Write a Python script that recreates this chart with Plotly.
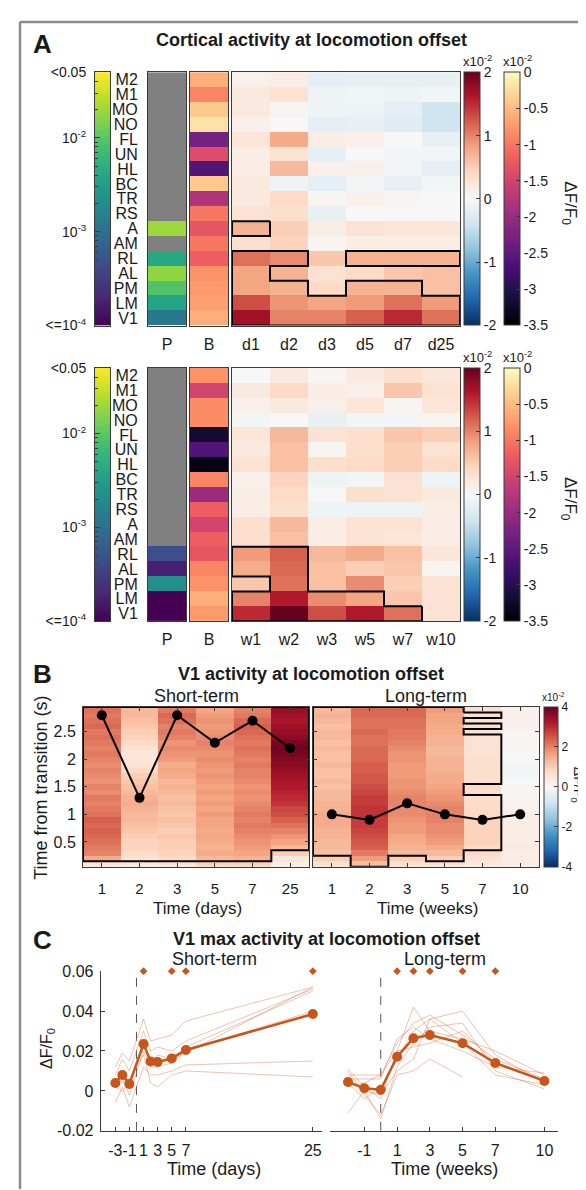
import numpy as np
import plotly.graph_objects as go

# ---------------- data ----------------
areas = ["M2", "M1", "MO", "NO", "FL", "UN", "HL", "BC", "TR", "RS", "A", "AM", "RL", "AL", "PM", "LM", "V1"]
short_sessions = ["d1", "d2", "d3", "d5", "d7", "d25"]
long_sessions = ["w1", "w2", "w3", "w5", "w7", "w10"]

# p-values (None = not significant, drawn grey)
short_p = [None] * 10 + [0.0197, None, 0.0042, 0.0174, 0.0088, 0.0037, 0.0012]
long_p = [None] * 12 + [0.00047, 0.00017, 0.0022, 0.0001, 0.0001]

# baseline dF/F0 (x1e-2)
short_base = [-0.6, -0.9, -0.4, -0.2, -2.3, -1.4, -2.6, -0.4, -1.8, -1.0, -1.3, -1.0, -1.2, -0.8, -0.75, -0.7, -0.6]
long_base = [-0.8, -1.5, -0.85, -0.85, -3.2, -2.6, -3.4, -0.9, -2.0, -1.2, -1.5, -1.2, -1.3, -0.9, -0.8, -0.6, -0.75]

# dF/F0 change per area x session (x1e-2)
short_dff = [
    [0.10, 0.15, -0.20, -0.15, -0.15, -0.15],
    [0.20, 0.30, -0.10, -0.05, -0.10, -0.05],
    [0.20, 0.05, -0.10, -0.10, -0.20, -0.40],
    [0.10, 0.00, -0.20, -0.15, -0.25, -0.40],
    [0.25, 0.75, 0.15, 0.10, 0.00, -0.15],
    [0.15, 0.30, -0.20, 0.00, -0.05, -0.05],
    [0.15, 0.65, 0.10, 0.10, -0.05, -0.20],
    [0.20, -0.10, -0.20, -0.05, -0.15, -0.05],
    [0.20, 0.40, 0.05, 0.10, 0.05, 0.00],
    [0.30, 0.35, -0.15, 0.00, 0.00, 0.00],
    [0.70, 0.50, 0.15, 0.30, 0.25, 0.25],
    [0.35, 0.45, 0.05, 0.15, 0.15, 0.15],
    [1.10, 0.95, 0.55, 0.70, 0.70, 0.70],
    [0.80, 0.70, 0.30, 0.40, 0.55, 0.60],
    [0.80, 0.70, 0.40, 0.70, 0.70, 0.60],
    [1.30, 0.90, 0.80, 0.85, 1.10, 0.85],
    [1.70, 1.00, 1.00, 1.20, 1.50, 1.10],
]
long_dff = [
    [0.00, 0.20, 0.05, 0.20, 0.35, 0.25],
    [0.20, 0.40, 0.15, 0.10, 0.55, 0.30],
    [0.10, 0.20, 0.10, 0.25, 0.05, 0.25],
    [-0.05, 0.00, -0.15, -0.05, -0.05, 0.05],
    [0.25, 0.65, 0.30, 0.35, 0.55, 0.50],
    [0.20, 0.60, 0.05, 0.35, 0.50, 0.30],
    [0.30, 0.60, 0.35, 0.40, 0.50, 0.40],
    [0.10, 0.45, -0.10, -0.05, 0.30, -0.10],
    [0.15, 0.40, 0.00, 0.35, 0.30, 0.20],
    [0.15, 0.35, -0.10, -0.10, -0.10, 0.15],
    [0.35, 0.65, 0.15, 0.30, 0.30, 0.15],
    [0.35, 0.60, 0.15, 0.30, 0.25, 0.15],
    [0.85, 1.20, 0.65, 0.75, 0.60, 0.25],
    [0.75, 1.15, 0.60, 0.50, 0.55, 0.05],
    [0.55, 1.10, 0.60, 0.95, 0.50, 0.30],
    [1.00, 1.60, 0.95, 0.80, 0.55, 0.30],
    [1.50, 2.00, 1.30, 1.60, 1.10, 0.30],
]
# significance masks (1 = outlined)
short_sig = [[0] * 6] * 10 + [[1, 0, 0, 0, 0, 0], [0] * 6, [1, 1, 0, 1, 1, 1], [1, 0, 0, 0, 0, 0],
                              [1, 1, 0, 1, 1, 0], [1] * 6, [1] * 6]
long_sig = [[0] * 6] * 12 + [[1, 1, 0, 0, 0, 0], [1, 1, 0, 0, 0, 0], [0, 1, 0, 0, 0, 0],
                             [1, 1, 1, 1, 0, 0], [1, 1, 1, 1, 1, 0]]

# Panel B: V1 time course (x1e-2), time bins from 0.1 to 2.9 s (bottom -> top)
times = [round(0.1 * (k + 1), 1) for k in range(29)]
day_labels = ["1", "2", "3", "5", "7", "25"]
week_labels = ["1", "2", "3", "5", "7", "10"]
v1_short = [
    [0.5, 1.5, 2.0, 2.1, 2.2, 2.3, 2.4, 2.3, 2.4, 2.2, 2.1, 2.0, 2.1, 1.9, 2.0, 1.8, 1.9, 2.0, 1.9, 2.0, 2.1, 2.0, 2.1, 2.2, 2.1, 2.3, 2.2, 2.1, 2.2],
    [0.4, 0.6, 0.8, 0.9, 0.9, 1.0, 1.1, 1.2, 1.3, 1.3, 1.4, 1.5, 1.4, 1.3, 1.2, 1.1, 1.0, 0.8, 0.6, 0.5, 0.5, 0.6, 0.8, 0.9, 1.0, 1.1, 1.2, 1.3, 1.3],
    [0.5, 0.8, 0.9, 1.0, 1.0, 1.1, 1.0, 1.1, 1.2, 1.1, 1.2, 1.3, 1.2, 1.3, 1.4, 1.3, 1.5, 1.6, 1.5, 1.7, 1.8, 1.9, 1.8, 2.0, 2.1, 2.0, 2.2, 2.3, 2.1],
    [0.9, 1.3, 1.5, 1.4, 1.5, 1.6, 1.5, 1.6, 1.6, 1.7, 1.6, 1.7, 1.6, 1.7, 1.6, 1.7, 1.8, 1.7, 1.8, 1.9, 1.8, 1.9, 2.0, 1.9, 1.8, 1.7, 1.8, 1.7, 1.6],
    [0.9, 1.4, 1.6, 1.7, 1.8, 1.9, 2.0, 2.1, 2.0, 2.1, 2.0, 1.9, 1.8, 1.9, 1.8, 1.9, 2.0, 2.0, 2.1, 2.0, 2.1, 2.2, 2.1, 2.2, 2.3, 2.4, 2.3, 2.1, 2.0],
    [0.3, 0.5, 1.0, 1.3, 1.6, 1.8, 2.0, 2.2, 2.4, 2.6, 2.7, 2.9, 3.0, 3.1, 3.2, 3.3, 3.4, 3.5, 3.6, 3.7, 3.8, 3.9, 3.8, 3.6, 3.5, 3.4, 3.3, 3.4, 3.5],
]
v1_long = [
    [0.7, 1.0, 1.2, 1.3, 1.3, 1.4, 1.4, 1.5, 1.5, 1.5, 1.4, 1.4, 1.3, 1.3, 1.2, 1.3, 1.2, 1.2, 1.3, 1.2, 1.2, 1.3, 1.2, 1.3, 1.3, 1.2, 1.3, 1.4, 1.3],
    [1.2, 1.7, 2.1, 2.4, 2.5, 2.6, 2.7, 2.8, 2.8, 2.9, 2.9, 2.8, 2.8, 2.7, 2.6, 2.5, 2.5, 2.4, 2.4, 2.3, 2.3, 2.3, 2.2, 2.2, 2.3, 2.2, 2.2, 2.3, 2.3],
    [0.7, 1.0, 1.3, 1.4, 1.5, 1.6, 1.7, 1.7, 1.8, 1.9, 1.9, 2.0, 2.0, 1.9, 1.8, 1.8, 1.7, 1.7, 1.7, 1.8, 1.8, 1.9, 2.0, 2.1, 2.1, 2.2, 2.2, 2.3, 2.3],
    [0.6, 1.0, 1.3, 1.5, 1.7, 1.8, 1.9, 1.9, 2.0, 2.0, 2.0, 1.9, 1.8, 1.7, 1.6, 1.5, 1.5, 1.4, 1.4, 1.4, 1.3, 1.3, 1.4, 1.4, 1.5, 1.5, 1.6, 1.6, 1.7],
    [0.4, 0.6, 0.8, 0.8, 0.9, 0.9, 0.9, 0.9, 0.9, 0.8, 0.8, 0.8, 0.7, 0.7, 0.8, 0.7, 0.7, 0.7, 0.7, 0.7, 0.6, 0.6, 0.6, 0.6, 0.6, 0.7, 0.6, 0.7, 0.7],
    [0.3, 0.3, 0.3, 0.4, 0.3, 0.3, 0.3, 0.3, 0.3, 0.3, 0.2, 0.2, 0.1, 0.1, 0.1, 0.0, -0.1, -0.1, -0.1, 0.0, 0.0, 0.1, 0.1, 0.1, 0.1, 0.2, 0.2, 0.2, 0.2],
]
short_time_sig = [
    "01111111111111111111111111111",
    "01111111111111111111111111111",
    "01111111111111111111111111111",
    "01111111111111111111111111111",
    "01111111111111111111111111111",
    "00011111111111111111111111111",
]
long_time_sig = [
    "00111111111111111111111111111",
    "11111111111111111111111111111",
    "00111111111111111111111111111",
    "01111111111111111111111111111",
    "00011111111110011111111101010",
    "00000000000000000000000000000",
]
short_peak = [2.8, 1.3, 2.8, 2.3, 2.7, 2.2]
long_peak = [1.0, 0.9, 1.2, 1.0, 0.9, 1.0]

# Panel C: V1 max activity
c_days = [-3, -2, -1, 1, 2, 3, 5, 7, 25]
c_days_mean = [0.004, 0.008, 0.0035, 0.0235, 0.0148, 0.0145, 0.0163, 0.0205, 0.0385]
c_days_mice = [
    [0.012, 0.019, 0.015, 0.036, 0.025, 0.026, 0.028, 0.035, 0.052],
    [0.008, 0.016, 0.010, 0.030, 0.020, 0.022, 0.020, 0.025, 0.051],
    [0.004, 0.010, 0.002, 0.025, 0.015, 0.018, 0.016, 0.022, 0.050],
    [0.002, 0.006, -0.002, 0.020, 0.012, 0.012, 0.014, 0.020, 0.040],
    [-0.006, 0.002, -0.008, 0.012, 0.008, 0.008, 0.010, 0.013, 0.015],
    [0.006, 0.004, 0.006, 0.018, 0.004, 0.002, 0.008, 0.010, 0.007],
    [0.002, 0.000, 0.004, 0.022, 0.016, 0.014, 0.016, 0.019, 0.052],
]
c_days_sig = [1, 5, 7, 25]
c_weeks = [-2, -1, 0, 1, 2, 3, 5, 7, 10]
c_weeks_mean = [0.0045, 0.0013, 0.0006, 0.0171, 0.0264, 0.028, 0.0239, 0.014, 0.005]
c_weeks_mice = [
    [0.011, 0.002, -0.004, 0.020, 0.042, 0.030, 0.026, 0.020, 0.008],
    [0.008, 0.008, 0.008, 0.024, 0.034, 0.038, 0.028, 0.016, 0.006],
    [0.004, -0.004, 0.002, 0.016, 0.030, 0.036, 0.040, 0.018, 0.004],
    [-0.011, 0.000, -0.014, 0.012, 0.024, 0.032, 0.034, 0.010, 0.001],
    [0.006, 0.006, 0.006, 0.026, 0.032, 0.026, 0.020, 0.012, 0.009],
    [0.010, -0.002, -0.012, 0.008, 0.010, 0.016, 0.007, None, None],
    [0.002, 0.004, 0.008, 0.020, 0.022, 0.024, 0.030, 0.014, 0.005],
    [0.006, 0.000, -0.002, 0.010, 0.016, 0.036, 0.024, 0.008, 0.003],
]
c_weeks_sig = [1, 2, 3, 5, 7]
sig_marker_level = 0.06
onset = 0

# ---------------- layout helpers ----------------
W, H = 586, 1190
FONT = "Liberation Sans, Arial, sans-serif"
TXT = "#1a1a1a"
EDGE = "#3a3a3a"
LOGMIN, LOGMAX = -4.0, float(np.log10(0.05))


def xd(a, b):
    return [a / W, b / W]


def yd(top, bot):
    return [1 - bot / H, 1 - top / H]


def px(x):
    return x / W


def py(y):
    return 1 - y / H


fig = go.Figure()
layout = {}
annotations = []
shapes = []


def axname(n):
    return ("x" if n == 1 else f"x{n}"), ("y" if n == 1 else f"y{n}")


def add_axes(n, xdom, ydom, xo, yo):
    xk = "xaxis" if n == 1 else f"xaxis{n}"
    yk = "yaxis" if n == 1 else f"yaxis{n}"
    xa, ya = axname(n)
    base = dict(showgrid=False, zeroline=False, fixedrange=True,
                tickfont=dict(family=FONT, size=14, color=TXT))
    layout[xk] = {**base, "domain": xdom, "anchor": ya, **xo}
    layout[yk] = {**base, "domain": ydom, "anchor": xa, **yo}


def ann(text, x, y, size, bold=False, xanchor="center", angle=0, yanchor="middle"):
    if bold:
        text = f"<b>{text}</b>"
    annotations.append(dict(text=text, x=px(x), y=py(y), xref="paper", yref="paper",
                            xanchor=xanchor, yanchor=yanchor, showarrow=False, textangle=angle,
                            borderpad=0, font=dict(family=FONT, size=size, color=TXT)))


def outline_xy(mask, xc, yc, hx, hy):
    R, C = len(mask), len(mask[0])
    segs = []
    for r in range(R):
        for c in range(C):
            if not mask[r][c]:
                continue
            x0, x1 = round(xc[c] - hx, 6), round(xc[c] + hx, 6)
            y0, y1 = round(yc[r] - hy, 6), round(yc[r] + hy, 6)
            if r == 0 or not mask[r - 1][c]:
                segs.append(((x0, y0), (x1, y0)))
            if r == R - 1 or not mask[r + 1][c]:
                segs.append(((x0, y1), (x1, y1)))
            if c == 0 or not mask[r][c - 1]:
                segs.append(((x0, y0), (x0, y1)))
            if c == C - 1 or not mask[r][c + 1]:
                segs.append(((x1, y0), (x1, y1)))
    xs, ys = [], []
    while segs:
        a, b = segs.pop()
        path = [a, b]
        grown = True
        while grown:
            grown = False
            for i, (p, q) in enumerate(segs):
                if p == path[-1]:
                    path.append(q); segs.pop(i); grown = True; break
                if q == path[-1]:
                    path.append(p); segs.pop(i); grown = True; break
        xs += [p[0] for p in path] + [None]
        ys += [p[1] for p in path] + [None]
    return xs, ys


def cbar(xleft, top, bot, vals, texts, size=14, thick=16):
    return dict(x=px(xleft), xanchor="left", y=1 - (top + bot) / 2 / H, yanchor="middle",
                len=(bot - top) / H, lenmode="fraction", thickness=thick, thicknessmode="pixels",
                xpad=0, ypad=0, outlinewidth=1, outlinecolor=EDGE, ticks="inside", ticklen=4,
                tickcolor=EDGE, tickvals=vals, ticktext=texts,
                tickfont=dict(family=FONT, size=size, color=TXT))


frame = dict(showline=True, mirror=True, linecolor=EDGE, linewidth=1)
minor_vals = [float(np.log10(m * 10.0 ** e)) for e in (-4, -3, -2) for m in range(2, 10)
              if m * 10.0 ** e < 0.05]

# ---------------- Panel A (two blocks) ----------------
blocks = [
    dict(top=57, bot=314, p=short_p, base=short_base, dff=short_dff, sig=short_sig,
         cols=short_sessions, ax0=1),
    dict(top=357, bot=614, p=long_p, base=long_base, dff=long_dff, sig=long_sig,
         cols=long_sessions, ax0=5),
]
nA = len(areas)
rows = list(range(nA))
for blk in blocks:
    top, bot, a0 = blk["top"], blk["bot"], blk["ax0"]
    ydom = yd(top, bot)
    # p-value colour scale (gradient)
    grad = np.linspace(LOGMIN, LOGMAX, 256)
    xa, ya = axname(a0)
    fig.add_trace(go.Heatmap(z=grad.reshape(-1, 1), x=[0], y=grad, colorscale="Viridis",
                             zmin=LOGMIN, zmax=LOGMAX, showscale=False, xaxis=xa, yaxis=ya,
                             hoverinfo="skip"))
    add_axes(a0, xd(87, 102), ydom,
             dict(range=[-0.5, 0.5], showticklabels=False, ticks="", **frame),
             dict(range=[LOGMIN, LOGMAX], tickmode="array",
                  tickvals=[LOGMIN, -3, -2, LOGMAX],
                  ticktext=["<=10<sup>-4</sup>", "10<sup>-3</sup>", "10<sup>-2</sup>", "<0.05"],
                  ticks="inside", ticklen=5, tickcolor=EDGE, ticklabelstandoff=5,
                  minor=dict(tickmode="array", tickvals=minor_vals, ticks="inside",
                             ticklen=3, tickcolor=EDGE),
                  tickfont=dict(family=FONT, size=14, color=TXT), **frame))
    # P column
    xa, ya = axname(a0 + 1)
    ns = [[1] if p is None else [None] for p in blk["p"]]
    sigp = [[None] if p is None else [float(np.log10(max(p, 1e-4)))] for p in blk["p"]]
    fig.add_trace(go.Heatmap(z=ns, x=[0], y=rows, colorscale=[[0, "#808080"], [1, "#808080"]],
                             showscale=False, xaxis=xa, yaxis=ya, hoverinfo="skip"))
    fig.add_trace(go.Heatmap(z=sigp, x=[0], y=rows, colorscale="Viridis", zmin=LOGMIN,
                             zmax=LOGMAX, showscale=False, xaxis=xa, yaxis=ya, hoverinfo="skip"))
    add_axes(a0 + 1, xd(140, 178), ydom,
             dict(range=[-0.5, 0.5], tickmode="array", tickvals=[0], ticktext=["P"], ticks="",
                  ticklabelstandoff=4, tickfont=dict(family=FONT, size=16, color=TXT), **frame),
             dict(range=[nA - 0.5, -0.5], tickmode="array", tickvals=rows, ticktext=areas,
                  ticks="", ticklabelstandoff=6,
                  tickfont=dict(family=FONT, size=16, color=TXT), **frame))
    # B column (baseline)
    xa, ya = axname(a0 + 2)
    fig.add_trace(go.Heatmap(z=[[b] for b in blk["base"]], x=[0], y=rows, colorscale="Magma",
                             zmin=-3.5, zmax=0, xaxis=xa, yaxis=ya, hoverinfo="skip",
                             colorbar=cbar(496, top, bot, [0, -0.5, -1, -1.5, -2, -2.5, -3, -3.5],
                                           ["0", "-0.5", "-1", "-1.5", "-2", "-2.5", "-3", "-3.5"])))
    add_axes(a0 + 2, xd(182, 220), ydom,
             dict(range=[-0.5, 0.5], tickmode="array", tickvals=[0], ticktext=["B"], ticks="",
                  ticklabelstandoff=4, tickfont=dict(family=FONT, size=16, color=TXT), **frame),
             dict(range=[nA - 0.5, -0.5], showticklabels=False, ticks="", **frame))
    # main heatmap
    xa, ya = axname(a0 + 3)
    cols = list(range(len(blk["cols"])))
    fig.add_trace(go.Heatmap(z=blk["dff"], x=cols, y=rows, colorscale="RdBu_r", zmin=-2, zmax=2,
                             xaxis=xa, yaxis=ya, hoverinfo="skip",
                             colorbar=cbar(456, top, bot, [2, 1, 0, -1, -2],
                                           ["2", "1", "0", "-1", "-2"])))
    ox, oy = outline_xy(blk["sig"], cols, rows, 0.5, 0.5)
    fig.add_trace(go.Scatter(x=ox, y=oy, mode="lines", line=dict(color="black", width=2),
                             xaxis=xa, yaxis=ya, hoverinfo="skip", cliponaxis=False))
    add_axes(a0 + 3, xd(224, 452), ydom,
             dict(range=[-0.5, len(cols) - 0.5], tickmode="array", tickvals=cols,
                  ticktext=blk["cols"], ticks="", ticklabelstandoff=4,
                  tickfont=dict(family=FONT, size=16, color=TXT), **frame),
             dict(range=[nA - 0.5, -0.5], showticklabels=False, ticks="", **frame))
    ann("x10<sup>-2</sup>", 454, top - 11, 13, xanchor="left")
    ann("x10<sup>-2</sup>", 494, top - 11, 13, xanchor="left")
    ann("ΔF/F<sub>0</sub>", 561, top + 133, 17, angle=90)

ann("A", 34, 28, 26, bold=True)
ann("Cortical activity at locomotion offset", 303, 24, 18, bold=True)

# ---------------- Panel B ----------------
bx = list(range(6))
btop, bbot = 701, 863
for n, (xdom, cols_vals, sigs, peaks, labels, show_cb, show_y) in enumerate([
        (xd(75, 301), v1_short, short_time_sig, short_peak, day_labels, False, True),
        (xd(305, 531), v1_long, long_time_sig, long_peak, week_labels, True, False)]):
    a = 9 + n
    xa, ya = axname(a)
    z = [[cols_vals[c][k] for c in bx] for k in range(len(times))]
    hm = dict(z=z, x=bx, y=times, colorscale="RdBu_r", zmin=-4, zmax=4, xaxis=xa, yaxis=ya,
              hoverinfo="skip", showscale=show_cb)
    if show_cb:
        hm["colorbar"] = cbar(536, btop, bbot, [4, 2, 0, -2, -4], ["4", "2", "0", "-2", "-4"],
                              size=12, thick=14)
    fig.add_trace(go.Heatmap(**hm))
    mask = [[int(sigs[c][k]) for c in bx] for k in range(len(times))]
    ox, oy = outline_xy(mask, bx, times, 0.5, 0.05)
    fig.add_trace(go.Scatter(x=ox, y=oy, mode="lines", line=dict(color="black", width=2),
                             xaxis=xa, yaxis=ya, hoverinfo="skip", cliponaxis=False))
    fig.add_trace(go.Scatter(x=bx, y=peaks, mode="lines+markers", line=dict(color="black", width=2),
                             marker=dict(color="black", size=10), xaxis=xa, yaxis=ya,
                             hoverinfo="skip", cliponaxis=False))
    add_axes(a, xdom, yd(btop, bbot),
             dict(range=[-0.5, 5.5], tickmode="array", tickvals=bx, ticktext=labels, tickangle=0,
                  ticks="inside", ticklen=4, tickcolor=EDGE, showline=True, mirror="ticks",
                  linecolor=EDGE, linewidth=1, ticklabelstandoff=8,
                  tickfont=dict(family=FONT, size=15, color=TXT)),
             dict(range=[0.05, 2.95], tickmode="array", tickvals=[0.5, 1, 1.5, 2, 2.5],
                  ticktext=["0.5", "1", "1.5", "2", "2.5"], showticklabels=show_y,
                  ticks="inside", ticklen=4, tickcolor=EDGE, showline=True, mirror="ticks",
                  linecolor=EDGE, linewidth=1, ticklabelstandoff=3,
                  tickfont=dict(family=FONT, size=16, color=TXT)))

ann("B", 34, 668, 26, bold=True)
ann("V1 activity at locomotion offset", 303, 668, 18, bold=True)
ann("Short-term", 188, 690, 18)
ann("Long-term", 418, 690, 18)
ann("Time (days)", 189, 905, 17)
ann("Time (weeks)", 419, 905, 17)
ann("Time from transition (s)", 33, 783, 18, angle=-90)
ann("x10<sup>-2</sup>", 533, 691, 10, xanchor="left")
ann("ΔF/F<sub>0</sub>", 570, 780, 14, angle=90)

# ---------------- Panel C ----------------
ctop, cbot = 969, 1131
orange = "rgb(200,85,25)"
faint = "rgba(215,120,80,0.45)"
for n, (xdom, xr, xs, mean, mice, sig, ticks) in enumerate([
        (xd(92.7, 314), [-5.07, 26.3], c_days, c_days_mean, c_days_mice, c_days_sig,
         [-3, -1, 1, 3, 5, 7, 25]),
        (xd(322, 549.5), [-3.1, 10.8], c_weeks, c_weeks_mean, c_weeks_mice, c_weeks_sig,
         [-1, 1, 3, 5, 7, 10])]):
    a = 11 + n
    xa, ya = axname(a)
    for m in mice:
        fig.add_trace(go.Scatter(x=xs, y=m, mode="lines", line=dict(color=faint, width=1),
                                 xaxis=xa, yaxis=ya, hoverinfo="skip", connectgaps=False))
    fig.add_trace(go.Scatter(x=xs, y=mean, mode="lines+markers",
                             line=dict(color=orange, width=2.5),
                             marker=dict(color=orange, size=10), xaxis=xa, yaxis=ya,
                             hoverinfo="skip", cliponaxis=False))
    fig.add_trace(go.Scatter(x=sig, y=[sig_marker_level] * len(sig), mode="markers",
                             marker=dict(color=orange, size=6, symbol="diamond"),
                             xaxis=xa, yaxis=ya, hoverinfo="skip", cliponaxis=False))
    shapes.append(dict(type="line", xref=xa, yref=ya, x0=onset, x1=onset, y0=-0.02, y1=0.06,
                       line=dict(color="#555", width=1, dash="dash"), layer="below"))
    add_axes(a, xdom, yd(ctop, cbot),
             dict(range=xr, tickmode="array", tickvals=ticks, ticktext=[str(t) for t in ticks],
                  tickangle=0, ticks="inside", ticklen=4, tickcolor=EDGE, showline=True,
                  linecolor=EDGE, linewidth=1, ticklabelstandoff=5,
                  tickfont=dict(family=FONT, size=16, color=TXT)),
             dict(range=[-0.02, 0.06], tickmode="array", tickvals=[-0.02, 0, 0.02, 0.04, 0.06],
                  ticktext=["-0.02", "0", "0.02", "0.04", "0.06"], ticks="inside", ticklen=4,
                  tickcolor=EDGE, showline=(n == 0), linecolor=EDGE, linewidth=1,
                  showticklabels=(n == 0), visible=(n == 0), ticklabelstandoff=3,
                  tickfont=dict(family=FONT, size=16, color=TXT)))

ann("C", 34, 937, 26, bold=True)
ann("V1 max activity at locomotion offset", 318, 936, 18, bold=True)
ann("Short-term", 206, 957, 18)
ann("Long-term", 437, 957, 18)
ann("Time (days)", 206, 1170, 18)
ann("Time (weeks)", 436, 1170, 18)
ann("ΔF/F<sub>0</sub>", 39, 1048, 16, angle=-90)

# outer frame (left and top edges)
shapes.append(dict(type="line", xref="paper", yref="paper", x0=px(12), x1=1, y0=py(6), y1=py(6),
                   line=dict(color="#8a8a8a", width=2.5)))
shapes.append(dict(type="line", xref="paper", yref="paper", x0=px(12), x1=px(12), y0=py(6), y1=0,
                   line=dict(color="#8a8a8a", width=2.5)))

fig.update_layout(width=W, height=H, margin=dict(l=0, r=0, t=0, b=0), showlegend=False,
                  paper_bgcolor="white", plot_bgcolor="white", annotations=annotations,
                  shapes=shapes, font=dict(family=FONT, color=TXT), hovermode=False, **layout)
fig.write_html("out.html")
